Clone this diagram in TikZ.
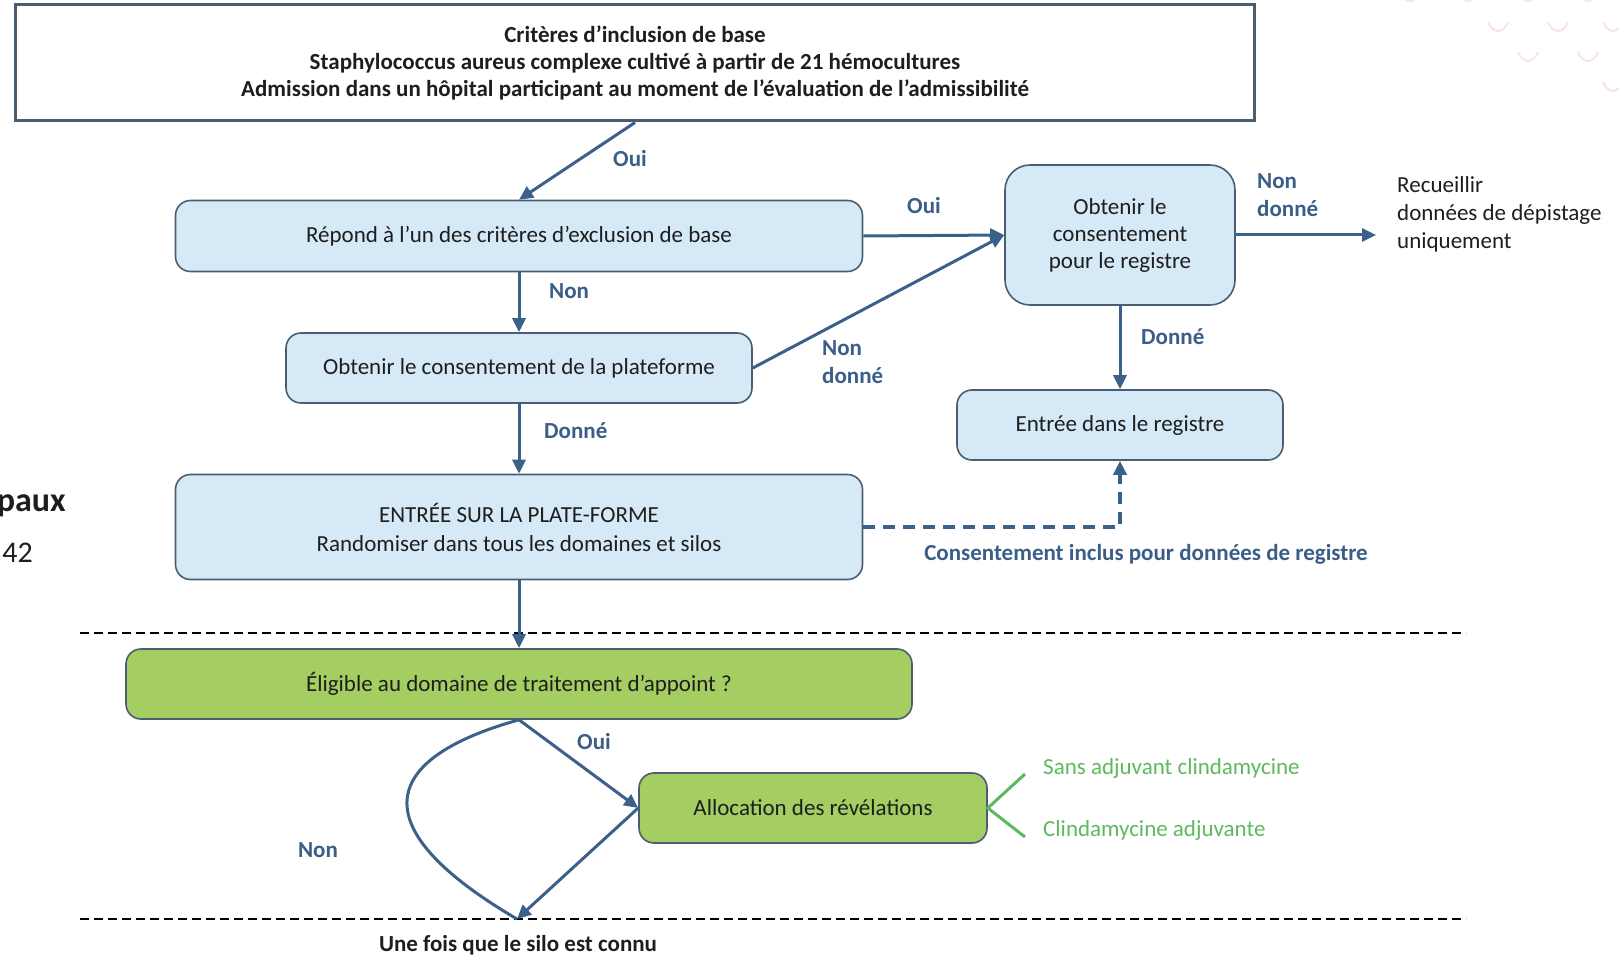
\documentclass[tikz,border=0pt]{standalone}
\usepackage{fontspec}
\setmainfont{Carlito}
\usetikzlibrary{arrows.meta}
\definecolor{boxfill}{HTML}{D5E9F7}
\definecolor{boxline}{HTML}{4B5D70}
\definecolor{arrowblue}{HTML}{3B6089}
\definecolor{labelblue}{HTML}{3A5E88}
\definecolor{greenfill}{HTML}{A4CE62}
\definecolor{greenline}{HTML}{5DB95D}
\definecolor{dotpink}{HTML}{F6E4EA}
\definecolor{inktext}{HTML}{1E1E1E}

\begin{document}
\begin{tikzpicture}[x=1pt,y=-1pt,font=\fontsize{23}{27}\selectfont,text=inktext,
  bluebox/.style={draw=boxline,line width=1.6pt,fill=boxfill,rounded corners=15pt,align=center,inner sep=0pt},
  greenbox/.style={draw=boxline,line width=1.6pt,fill=greenfill,rounded corners=15pt,align=center,inner sep=0pt},
  lbl/.style={text=labelblue,font=\fontsize{23}{28}\selectfont\bfseries,inner sep=0pt},
  gtxt/.style={text=greenline,inner sep=0pt},
  flow/.style={arrowblue,line width=3pt,-{Triangle[length=14pt,width=13pt]}},
  sepline/.style={draw=black,line width=2.5pt,dash pattern=on 9pt off 5pt}]
                \useasboundingbox (0,0) rectangle (1619,957);

                % faint decoration top right
                \foreach \x/\y in {1410/-8,1468/-8,1528/-8,1588/-8,1498/22,1558/22,1613/22,1528/52,1588/52,1613/82}
                    \draw[dotpink,line width=2pt] (\x-10,\y) .. controls (\x-5,\y+12) and (\x+5,\y+12) .. (\x+10,\y);

                % cut-off text at left edge
                \node[anchor=east,inner sep=0pt,font=\fontsize{34}{38}\selectfont\bfseries] (frag1) at (66,506) {paux};
                \node[anchor=east,inner sep=0pt,font=\fontsize{30}{34}\selectfont] (frag2) at (33,553) {42};

                % separators
                \coordinate (s1a) at (80,633);
                \coordinate (s1b) at (1466,633);
                \coordinate (s2a) at (80,919);
                \coordinate (s2b) at (1466,919);
                \draw[sepline] (s1a) -- (s1b);
                \draw[sepline] (s2a) -- (s2b);

                % boxes
                \node[draw=boxline,line width=3pt,fill=white,minimum width=1239pt,minimum height=116pt,align=center,font=\fontsize{23}{27}\selectfont\bfseries] (incl) at (635,63) {Critères d’inclusion de base\\Staphylococcus aureus complexe cultivé à partir de 21 hémocultures\\Admission dans un hôpital participant au moment de l’évaluation de l’admissibilité};
                \node[bluebox,minimum width=687pt,minimum height=71pt] (excl) at (519,236) {Répond à l’un des critères d’exclusion de base};
                \node[bluebox,minimum width=466pt,minimum height=70pt] (consplat) at (519,368) {Obtenir le consentement de la plateforme};
                \node[bluebox,minimum width=687pt,minimum height=105pt,font=\fontsize{23}{29}\selectfont] (entplat) at (519,527) {ENTRÉE SUR LA PLATE-FORME\\Randomiser dans tous les domaines et silos};
                \node[bluebox,rounded corners=25pt,minimum width=230pt,minimum height=140pt] (consreg) at (1120,235) {Obtenir le\\consentement\\pour le registre};
                \node[bluebox,minimum width=326pt,minimum height=70pt] (entreg) at (1120,425) {Entrée dans le registre};
                \node[greenbox,minimum width=786pt,minimum height=70pt] (elig) at (519,684) {Éligible au domaine de traitement d’appoint ?};
                \node[greenbox,minimum width=348pt,minimum height=70pt] (alloc) at (813,808) {Allocation des révélations};

                % free ends
                \coordinate (recu) at (1376,235);
                \coordinate (silo) at (517,919);
                \coordinate (gup) at (1025,774);
                \coordinate (gdown) at (1025,837);

                % texts
                \node[anchor=west,align=left,inner sep=0pt,font=\fontsize{23}{28}\selectfont] (recutxt) at (1397,214) {Recueillir\\données de dépistage\\uniquement};
                \node[gtxt,anchor=west] (sans) at (1043,768) {Sans adjuvant clindamycine};
                \node[gtxt,anchor=west] (clin) at (1043,830) {Clindamycine adjuvante};
                \node[inner sep=0pt,font=\fontsize{23}{27}\selectfont\bfseries] (silotxt) at (518,945) {Une fois que le silo est connu};

                % labels
                \node[lbl] (oui1) at (630,159) {Oui};
                \node[lbl] (oui2) at (924,206) {Oui};
                \node[lbl,anchor=west,align=left] (nondon1) at (1257,195) {Non\\donné};
                \node[lbl,anchor=west] (non1) at (549,291) {Non};
                \node[lbl,anchor=west,align=left] (nondon2) at (822,362) {Non\\donné};
                \node[lbl,anchor=west] (don1) at (544,431) {Donné};
                \node[lbl,anchor=west] (don2) at (1141,337) {Donné};
                \node[lbl] (inclus) at (1146,554) {Consentement inclus pour données de registre};
                \node[lbl,anchor=west] (oui3) at (577,742) {Oui};
                \node[lbl] (non2) at (318,850) {Non};

                % connectors
                \path [flow] (incl.south) edge (excl.north);
                \path [flow] (excl.east) edge (consreg.west);
                \path [flow] (excl.south) edge (consplat.north);
                \path [flow] (consplat.east) edge (consreg.west);
                \path [flow] (consreg.east) edge (recu);
                \path [flow] (consreg.south) edge (entreg.north);
                \path [flow] (consplat.south) edge (entplat.north);
                \path [flow] (entplat.south) edge (elig.north);
                \path [flow] (elig.south) edge (alloc.west);
                \path [flow] (alloc.west) edge (silo);
                \draw[arrowblue,line width=3pt] (elig.south) .. controls (375,760) and (365,830) .. (silo);
                \draw[arrowblue,line width=3.5pt,dash pattern=on 12pt off 8pt,-{Triangle[length=14pt,width=13pt]}] (entplat.east) -| (entreg.south);
                \draw[greenline,line width=3pt] (gup) -- (alloc.east) -- (gdown);
            \end{tikzpicture}
\end{document}
